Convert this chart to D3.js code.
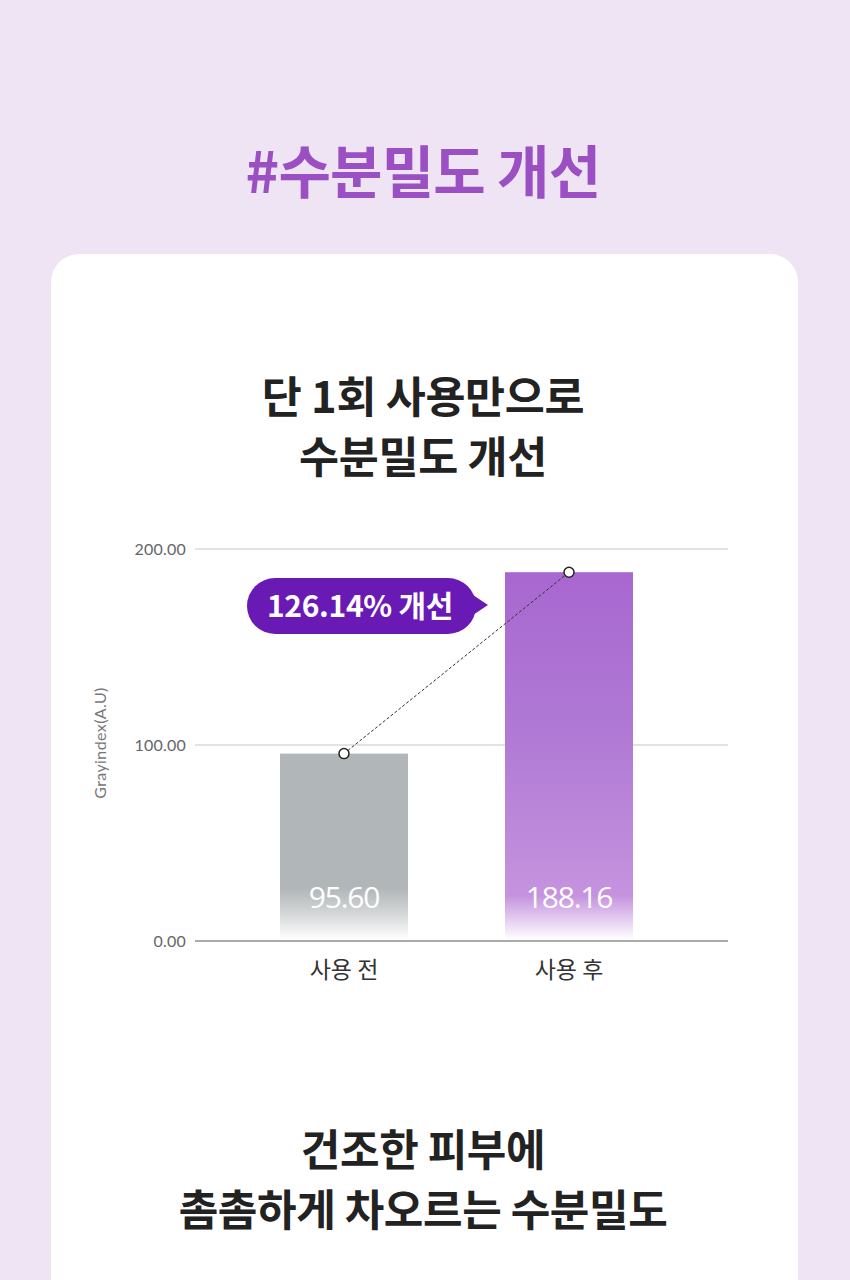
<!DOCTYPE html>
<html><head><meta charset="utf-8">
<script src="https://cdn.jsdelivr.net/npm/d3@7"></script>
<style>
html,body{margin:0;padding:0;background:#efe4f3;}
svg{display:block;}
</style></head>
<body>
<svg id="c" width="850" height="1280"></svg>
<script>
const categories = ["사용 전", "사용 후"];
const values = [95.60, 188.16];
const valueLabels = ["95.60", "188.16"];
const yTicks = [0, 100, 200];
const yTickLabels = ["0.00", "100.00", "200.00"];
const improvement = "126.14% 개선";
const pageTitle = "#수분밀도 개선";
const subTitle = ["단 1회 사용만으로", "수분밀도 개선"];
const bottomText = ["건조한 피부에", "촘촘하게 차오르는 수분밀도"];
const yAxisTitle = "Grayindex(A.U)";

const svg = d3.select("#c");
const KR = "'Noto Sans CJK KR','Noto Sans',sans-serif";

svg.append("rect").attr("width",850).attr("height",1280).attr("fill","#efe4f3");
svg.append("rect").attr("x",51).attr("y",254).attr("width",747).attr("height",1100).attr("rx",28).attr("fill","#ffffff");

svg.append("text").attr("x",423).attr("y",193).attr("text-anchor","middle")
  .attr("font-family",KR).attr("font-weight",700).attr("font-size",57).attr("letter-spacing",-0.8)
  .attr("fill","#9a4fc3").text(pageTitle);

svg.append("g").selectAll("text").data(subTitle).join("text")
  .attr("x",423).attr("y",(d,i)=>413+i*60).attr("text-anchor","middle")
  .attr("font-family",KR).attr("font-weight",700).attr("font-size",43.5).attr("letter-spacing",-0.3)
  .attr("fill","#222").text(d=>d);

svg.append("g").selectAll("text").data(bottomText).join("text")
  .attr("x",423).attr("y",(d,i)=>1166+i*60).attr("text-anchor","middle")
  .attr("font-family",KR).attr("font-weight",700).attr("font-size",43).attr("letter-spacing",-0.4)
  .attr("fill","#222").text(d=>d);

// scales
const y = d3.scaleLinear().domain([0,200]).range([941,549]);
const x = d3.scaleBand().domain(categories).range([280,633]).paddingInner(97/225).paddingOuter(0);

// gridlines
svg.append("g").selectAll("line").data(yTicks).join("line")
  .attr("x1",195).attr("x2",728).attr("y1",d=>y(d)).attr("y2",d=>y(d))
  .attr("stroke",d=>d===0?"#aaaaaa":"#c8c8c8").attr("stroke-width",d=>d===0?2:1.2);

svg.append("g").selectAll("text").data(yTicks).join("text")
  .attr("x",186).attr("y",d=>y(d)+5.5).attr("text-anchor","end")
  .attr("font-family","Lato, sans-serif").attr("font-size",16).attr("letter-spacing",0.2).attr("fill","#666")
  .text((d,i)=>yTickLabels[i]);

svg.append("text").attr("transform","translate(106,743) rotate(-90)").attr("text-anchor","middle")
  .attr("font-family","Lato, sans-serif").attr("font-size",16).attr("letter-spacing",0.4).attr("fill","#777").text(yAxisTitle);

// gradients
const defs = svg.append("defs");
const gradSpecs = [
  {id:"g0", stops:[[0,"#b1b6b8"],[0.72,"#b1b6b8"],[0.82,"#c9cdce"],[1,"#ffffff"]]},
  {id:"g1", stops:[[0,"#a867d0"],[0.45,"#b07ad5"],[0.88,"#c593de"],[1,"#ffffff"]]}
];
gradSpecs.forEach(g=>{
  const lg = defs.append("linearGradient").attr("id",g.id).attr("x1",0).attr("x2",0).attr("y1",0).attr("y2",1);
  g.stops.forEach(s=>lg.append("stop").attr("offset",s[0]).attr("stop-color",s[1]));
});

svg.append("g").selectAll("rect").data(values).join("rect")
  .attr("x",(d,i)=>x(categories[i])).attr("width",x.bandwidth())
  .attr("y",d=>y(d)).attr("height",d=>y(0)-y(d)-1)
  .attr("fill",(d,i)=>`url(#g${i})`);

svg.append("g").selectAll("text").data(valueLabels).join("text")
  .attr("x",(d,i)=>x(categories[i])+x.bandwidth()/2).attr("y",908).attr("text-anchor","middle")
  .attr("font-family","'Open Sans', sans-serif").attr("font-size",30).attr("letter-spacing",-1.2)
  .attr("fill","#ffffff").text(d=>d);

svg.append("g").selectAll("text").data(categories).join("text")
  .attr("x",d=>x(d)+x.bandwidth()/2).attr("y",978).attr("text-anchor","middle")
  .attr("font-family",KR).attr("font-size",23).attr("fill","#333").text(d=>d);

// dashed connector
const pts = values.map((v,i)=>[x(categories[i])+x.bandwidth()/2, y(v)]);
svg.append("line").attr("x1",pts[0][0]).attr("y1",pts[0][1]).attr("x2",pts[1][0]).attr("y2",pts[1][1])
  .attr("stroke","#333").attr("stroke-width",1).attr("stroke-dasharray","3,2");
svg.append("g").selectAll("circle").data(pts).join("circle")
  .attr("cx",d=>d[0]).attr("cy",d=>d[1]).attr("r",5)
  .attr("fill","#fff").attr("stroke","#222").attr("stroke-width",1.5);

// bubble
const bub = svg.append("g");
bub.append("rect").attr("x",247).attr("y",578).attr("width",229).attr("height",56).attr("rx",28).attr("fill","#6a1ab4");
bub.append("path").attr("d","M470,593 L488,605 L470,617 Z").attr("fill","#6a1ab4");
bub.append("text").attr("x",360).attr("y",617).attr("text-anchor","middle")
  .attr("font-family",KR).attr("font-weight",700).attr("font-size",30).attr("letter-spacing",-0.3)
  .attr("fill","#fff").text(improvement);
</script>
</body></html>
